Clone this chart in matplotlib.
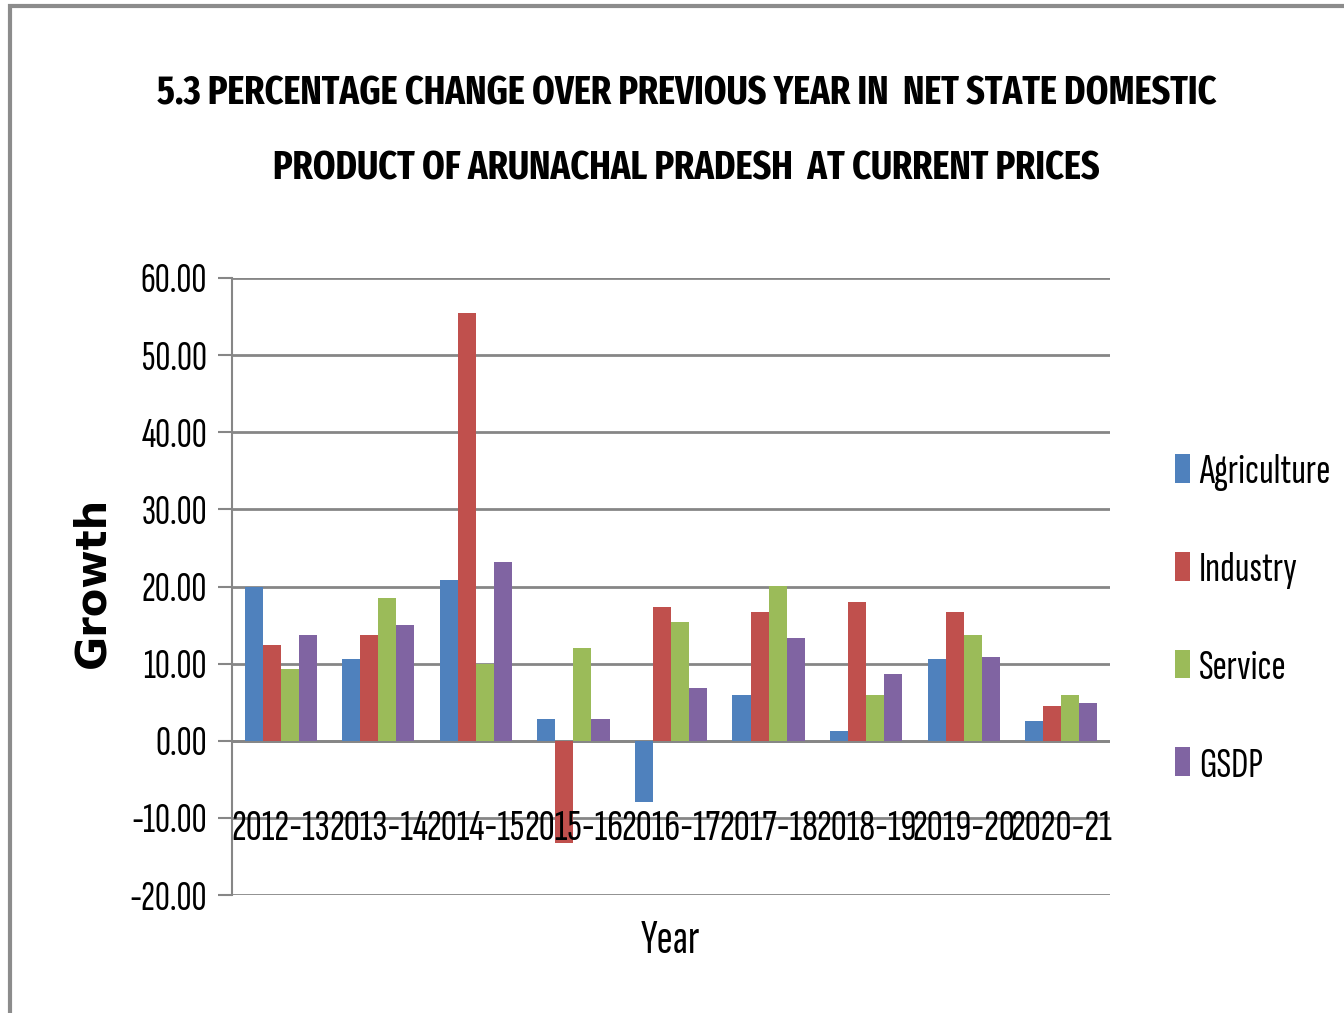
import matplotlib
matplotlib.use("Agg")
import matplotlib.pyplot as plt
import numpy as np
from matplotlib import font_manager as fm
from matplotlib.patches import Rectangle

years = ["2012-13", "2013-14", "2014-15", "2015-16", "2016-17",
         "2017-18", "2018-19", "2019-20", "2020-21"]
agriculture = [20.0, 10.6, 20.8, 2.8, -8.0, 5.9, 1.2, 10.6, 2.5]
industry = [12.4, 13.7, 55.4, -13.3, 17.4, 16.7, 18.0, 16.7, 4.5]
service = [9.3, 18.5, 10.0, 12.0, 15.4, 20.1, 5.9, 13.7, 5.9]
gsdp = [13.7, 15.0, 23.2, 2.8, 6.9, 13.3, 8.6, 10.9, 4.9]
series_names = ["Agriculture", "Industry", "Service", "GSDP"]
colors = ["#4F81BD", "#C0504D", "#9BBB59", "#8064A2"]


def _weight(w):
    return w if isinstance(w, int) else fm.weight_dict.get(w, 400)


def pick_font(candidates, min_weight=0):
    for name in candidates:
        for f in fm.fontManager.ttflist:
            if f.name == name and _weight(f.weight) >= min_weight and f.style == "normal":
                return [name, "DejaVu Sans"]
    return ["DejaVu Sans"]


NARROW = pick_font(["Sofia Sans Extra Condensed", "Saira ExtraCondensed", "Barlow Condensed"])
NARROW_BOLD = pick_font(["Sofia Sans Extra Condensed", "Fira Sans Extra Condensed", "Barlow Condensed",
                         "Saira ExtraCondensed", "Open Sans Condensed", "Roboto Condensed"], 700)
plt.rcParams["font.family"] = NARROW

fig = plt.figure(figsize=(13.44, 10.13), dpi=100)
ax = fig.add_axes([232 / 1344, 1 - 895 / 1013, 878 / 1344, 617 / 1013])

x = np.arange(len(years))
width = 0.185
for k, (name, vals) in enumerate(zip(series_names, [agriculture, industry, service, gsdp])):
    ax.bar(x + (k - 1.5) * width, vals, width, color=colors[k], label=name, zorder=3)

ax.set_xlim(-0.5, len(years) - 0.5)
ax.set_ylim(-20, 60)
yt = np.arange(-20, 61, 10)
ax.set_yticks(yt)
ax.set_yticklabels([f"{v:.2f}" for v in yt], fontsize=30)
ax.tick_params(axis="y", length=10, width=1.5, color="#868686", pad=8)
ax.set_xticks([])
ax.grid(axis="y", color="#868686", linewidth=2, zorder=1)
for s in ["top", "right", "bottom"]:
    ax.spines[s].set_visible(False)
ax.spines["left"].set_color("#868686")
ax.spines["left"].set_linewidth(1.5)
ax.axhline(0, color="#868686", linewidth=2, zorder=2)

for i, lab in enumerate(years):
    ax.text(i, -11.4, lab, ha="center", va="center", fontsize=32, zorder=4)

ax.set_xlabel("Year", fontsize=35, labelpad=18)
ax.text(-0.159, 0.506, "Growth", transform=ax.transAxes, rotation=90, ha="center", va="center",
        fontsize=30, fontweight="bold", family="DejaVu Sans")

title = fig.text(0.511, 1 - 131 / 1013, "5.3 PERCENTAGE CHANGE OVER PREVIOUS YEAR IN  NET STATE DOMESTIC\n"
                 "PRODUCT OF ARUNACHAL PRADESH  AT CURRENT PRICES",
                 ha="center", va="center", fontsize=36, fontweight="bold", linespacing=2.2,
                 family=NARROW_BOLD)
# scale the title so its first line spans the same width as the original
renderer = fig.canvas.get_renderer()
w = title.get_window_extent(renderer).width
title.set_fontsize(36 * 1060 / w)

fig.legend(loc="upper left", bbox_to_anchor=(1175 / 1344, 1 - 454 / 1013), frameon=False,
           fontsize=31, handlelength=0.35, handleheight=0.65, handletextpad=0.2,
           labelspacing=1.4, borderpad=0, borderaxespad=0)

fig.add_artist(Rectangle((10 / 1344, -0.1), 1.2, 1.1 - 6 / 1013, transform=fig.transFigure,
                         fill=False, edgecolor="#8C8C8C", linewidth=3))

fig.savefig("out.png", dpi=100)
